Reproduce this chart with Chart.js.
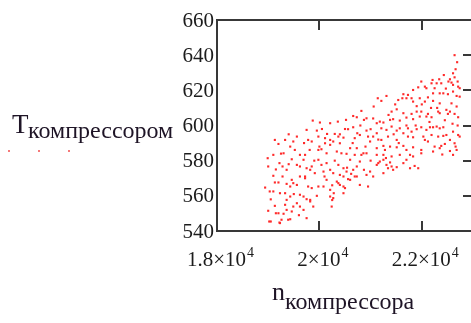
<!DOCTYPE html>
<html>
<head>
<meta charset="utf-8">
<script src="https://cdn.jsdelivr.net/npm/chart.js@4"></script>
<style>
  html, body { margin: 0; padding: 0; background: #fff; overflow: hidden; }
  #wrap { width: 480px; height: 323px; }
</style>
</head>
<body>
<div id="wrap"><canvas id="plot" width="480" height="323"></canvas></div>
<script>
// [n компрессора, T компрессором] samples, grouped by temperature band
const band640 = [
  [22640,640],[22690,636],
  [22430,628.7],[22610,629.7],[22640,627.4],[22550,626.3],[22340,626.3],[22210,625.9],[22190,624.0],
  [22290,624.0],[21990,625.0],[22090,621.2],[22250,621.2],[22380,624.0],[22580,624.4],[22610,623.1],
  [22710,622.1],[22740,621.2],[22470,621.0],[22520,625.0],[22660,632.0],[22700,625.0]
];
const band615 = [
  [21640,617.8],[21830,620.2],[21730,617.4],[21930,621.7],[22060,622.1],[22120,616.0],[22220,618.3],
  [22350,618.3],[22420,618.3],[22510,617.8],[22610,619.3],[22680,616.8],[22740,616.4],[21310,616.8],
  [21210,614.0],[21140,615.5],[21700,615.5],[21800,615.5],[21960,615.5],[22060,613.6],[22220,614.0],
  [22350,612.6],[22580,612.6],[22680,610.8],[21540,614.5],[21620,615.5],[21830,613.6],[22000,612.0],
  [21480,612.0],[21900,611.0]
];
const band605 = [
  [20820,608.3],[21060,610.8],[21410,607.9],[21510,609.2],[21640,607.0],[21800,606.6],[21900,607.9],
  [21990,607.9],[22120,606.6],[22320,607.9],[22350,607.0],[22480,608.9],[22550,607.9],[22640,606.6],
  [22710,604.7],[20660,605.4],[20730,604.7],[20870,603.2],[20920,604.1],[21120,601.3],[21180,602.2],
  [21250,601.7],[21380,603.2],[21440,603.6],[21570,602.8],[21700,604.5],[21830,603.6],[21960,605.1],
  [22090,605.1],[22190,604.7],[22510,606.6],[22300,610.0],[22180,610.0],[21350,606.0],[21050,604.0],
  [22450,603.0],[22600,601.0],[22150,602.0]
];
const band595 = [
  [19870,602.8],[20010,601.7],[20210,601.3],[20360,602.2],[20520,603.2],[20560,597.9],[20660,599.0],
  [20740,595.6],[20790,594.6],[20920,597.1],[21000,597.9],[21120,595.6],[21210,598.4],[21310,597.5],
  [21410,599.4],[21510,597.1],[21570,598.4],[21640,595.6],[21730,598.4],[21800,596.5],[21900,597.9],
  [21990,599.0],[22090,597.5],[22160,599.0],[22220,599.0],[22290,599.4],[22350,598.4],[22420,599.0],
  [22480,594.6],[22610,596.5],[22710,594.6],[22740,593.7],[19750,597.5],[19950,597.1],[20150,595.2],
  [20300,595.2],[20400,595.0],[19980,593.7],[20110,592.8],[20210,591.8],[20370,593.7],[20470,593.1],
  [20690,592.8],[20950,593.7],[21050,593.7],[21210,591.8],[21340,593.7],[21510,591.8],[21730,593.7],
  [21830,593.3],[22030,593.7],[22190,594.6],[22320,593.7],[22420,594.1],[20050,598.0],[20500,598.0],
  [20800,600.0],[21700,600.0],[21880,600.0],[22700,600.0],[21450,595.0],[19400,595.0]
];
const band585 = [
  [19130,591.8],[19200,589.5],[19330,591.8],[19490,590.9],[19560,593.7],[19780,591.8],[19850,590.9],
  [20000,588.0],[20110,589.9],[20210,589.0],[20270,590.9],[20400,589.9],[20600,587.1],[20730,587.1],
  [20860,584.2],[20990,590.9],[21120,587.1],[21250,588.4],[21280,586.1],[21380,588.0],[21510,587.6],
  [21640,588.4],[21700,586.1],[21830,587.6],[21990,586.1],[22060,591.8],[22120,590.9],[22250,588.0],
  [22380,588.4],[22450,589.5],[22550,591.8],[22640,589.9],[22660,588.0],[22680,586.1],[22610,583.3],
  [22350,587.1],[22220,585.2],[19100,583.3],[19300,584.2],[19430,588.0],[19520,586.1],[19620,583.3],
  [19720,583.3],[19810,586.1],[19980,586.1],[20040,586.5],[20140,584.2],[20340,585.2],[20430,584.2],
  [20530,583.9],[20690,583.3],[20820,583.3],[20920,584.2],[21120,583.3],[21250,583.3],[21410,582.4],
  [21570,583.3],[21770,583.3],[21830,582.4],[21990,584.2],[19250,584.0],[19700,590.0],[20650,590.0],
  [20900,588.0],[21150,592.0],[21550,590.0],[22400,583.5],[22550,585.5]
];
const band575 = [
  [18990,581.4],[19220,578.6],[19280,576.7],[19360,574.8],[19460,580.8],[19560,577.6],[19620,576.7],
  [19690,580.5],[19750,575.7],[19820,574.8],[19850,576.7],[19980,580.5],[20040,577.6],[20140,578.6],
  [20210,574.8],[20270,572.9],[20370,577.6],[20470,575.7],[20530,573.8],[20600,580.5],[20660,574.8],
  [20730,576.7],[20790,579.5],[20870,574.8],[20990,573.8],[21120,577.6],[21150,578.6],[21250,580.5],
  [21340,575.7],[21440,574.8],[21510,576.3],[21640,578.6],[21700,580.5],[21770,575.7],[21860,577.0],
  [21930,575.7],[20080,573.8],[19910,572.9],[19720,571.0],[20400,571.9],[20470,571.0],[20730,571.0],
  [20920,571.9],[21050,571.0],[21250,572.9],[21310,577.6],[21410,576.7],[19000,576.7],[19100,571.4],
  [19280,571.0],[19150,575.0],[19400,578.0],[19900,580.0],[20100,571.0],[20300,580.0],[21000,580.0],
  [20540,576.0],[20620,572.5],[21180,579.5],[21300,581.5],[21380,579.0]
];
const band565 = [
  [18940,564.7],[19100,562.5],[19130,567.6],[19200,567.6],[19360,566.8],[19430,565.3],[19460,569.1],
  [19490,567.2],[19560,566.2],[19620,571.0],[19720,570.0],[19780,565.3],[19850,564.4],[19980,565.3],
  [20080,565.3],[20140,569.1],[20210,563.4],[20340,568.1],[20370,567.2],[20400,566.2],[20470,565.3],
  [20500,564.4],[20600,569.1],[20690,571.0],[20790,566.2],[20950,565.3],[19030,562.5],[19230,561.5],
  [19330,561.5],[19430,559.6],[19620,560.6],[19690,559.6],[19820,557.7],[20210,559.6],[20270,558.7],
  [20470,561.5],[19050,558.0],[19500,561.0],[19950,560.0],[20250,566.0],[20280,561.5],[20250,557.6],
  [20560,569.5]
];
const band550 = [
  [19000,551.5],[19020,545.4],[19050,545.4],[19130,554.3],[19150,550.1],[19200,550.1],[19220,544.8],
  [19230,544.5],[19260,546.4],[19300,549.8],[19330,554.9],[19360,552.0],[19390,546.4],[19430,546.7],
  [19460,551.1],[19560,555.8],[19620,553.9],[19690,552.0],[19750,547.3],[19820,556.8],[19880,553.9],
  [20240,553.9],[19750,558.1],[19360,557.7],[19490,553.9],[19600,549.0]
];

const yTicks = [540, 560, 580, 600, 620, 640, 660];
const xTicks = [18000, 20000, 22000];
const xTickMantissa = ['1.8', '2', '2.2'];

const points = [band640, band615, band605, band595, band585, band575, band565, band550]
  .flat()
  .map(([n, t]) => ({ x: n, y: t }));

const INK = '#1c1c1c';
const FRAME = '#383838';

// Mathcad-style frame: box, inward ticks, sci-notation labels and axis names with subscripts
const mathcadFrame = {
  id: 'mathcadFrame',
  afterDraw(chart) {
    const { ctx, chartArea: a, scales: { x, y } } = chart;
    ctx.save();

    ctx.strokeStyle = FRAME;
    ctx.lineWidth = 2;
    ctx.strokeRect(a.left, a.top, a.right - a.left, a.bottom - a.top);

    ctx.beginPath();
    xTicks.forEach(v => {
      if (v === x.min) return;
      const px = Math.round(x.getPixelForValue(v));
      ctx.moveTo(px, a.bottom); ctx.lineTo(px, a.bottom - 10);
      ctx.moveTo(px, a.top); ctx.lineTo(px, a.top + 10);
    });
    yTicks.forEach(v => {
      const py = Math.round(y.getPixelForValue(v));
      ctx.moveTo(a.right, py); ctx.lineTo(a.right - 10, py);
    });
    ctx.stroke();

    ctx.fillStyle = INK;
    ctx.textBaseline = 'middle';
    ctx.textAlign = 'right';
    ctx.font = '21px "Liberation Serif"';
    yTicks.forEach(v => {
      ctx.fillText(String(v), a.left - 3, y.getPixelForValue(v) + 1);
    });

    ctx.textBaseline = 'alphabetic';
    ctx.textAlign = 'left';
    xTicks.forEach((v, i) => {
      const main = xTickMantissa[i] + '×10';
      ctx.font = '21px "Liberation Serif"';
      const wMain = ctx.measureText(main).width;
      ctx.font = '14px "Liberation Serif"';
      const wExp = ctx.measureText('4').width;
      const left = x.getPixelForValue(v) + 3 - (wMain + wExp) / 2;
      ctx.font = '21px "Liberation Serif"';
      ctx.fillText(main, left, 266);
      ctx.font = '14px "Liberation Serif"';
      ctx.fillText('4', left + wMain + 1, 257);
    });

    // axis names
    ctx.fillStyle = '#1e1426';
    ctx.font = '27px "Liberation Serif"';
    ctx.fillText('T', 12, 133);
    ctx.font = '24px "Liberation Serif"';
    ctx.fillText('компрессором', 28, 138);

    ctx.font = '26px "Liberation Serif"';
    ctx.fillText('n', 272, 300);
    ctx.font = '24px "Liberation Serif"';
    ctx.fillText('компрессора', 285, 309);

    // trace sample under the y name
    ctx.fillStyle = '#f57a7a';
    [8, 38, 68].forEach(px => ctx.fillRect(px, 150, 2, 2));

    ctx.restore();
  }
};

new Chart(document.getElementById('plot'), {
  type: 'scatter',
  data: {
    datasets: [{
      data: points,
      pointStyle: 'rect',
      pointRadius: 1.5,
      backgroundColor: '#ff2a2a',
      borderWidth: 0
    }]
  },
  options: {
    responsive: false,
    animation: false,
    layout: { padding: { left: 217, top: 20, right: 7, bottom: 92 } },
    plugins: { legend: { display: false }, tooltip: { enabled: false } },
    scales: {
      x: {
        type: 'linear', min: 18000, max: 23000,
        ticks: { display: false, stepSize: 2000 },
        grid: { display: false, drawTicks: false },
        border: { display: false },
        afterFit: s => { s.height = 0; }
      },
      y: {
        min: 540, max: 660,
        ticks: { display: false, stepSize: 20 },
        grid: { display: false, drawTicks: false },
        border: { display: false },
        afterFit: s => { s.width = 0; }
      }
    }
  },
  plugins: [mathcadFrame]
});
</script>
</body>
</html>
